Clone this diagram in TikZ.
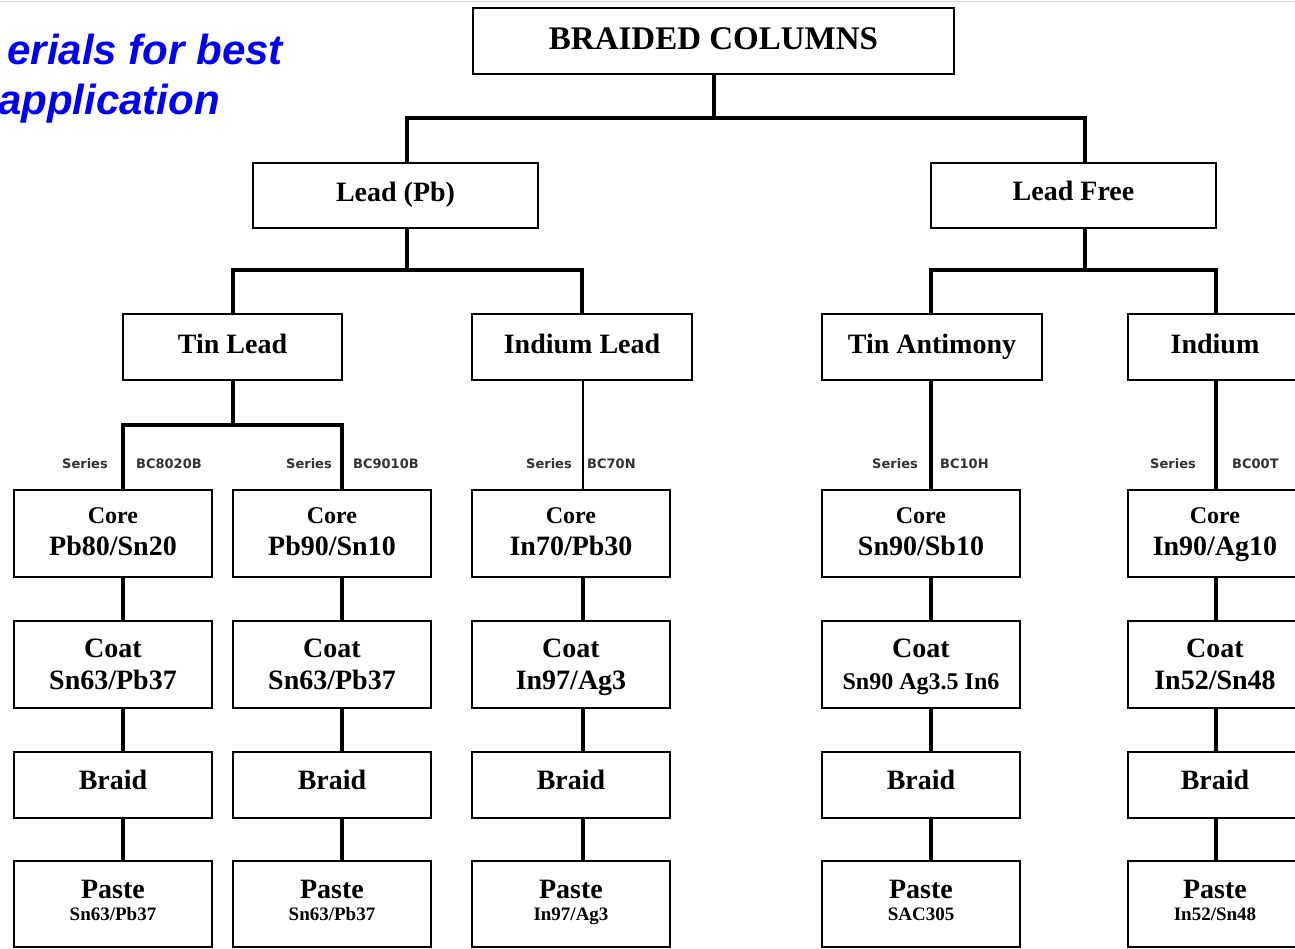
\documentclass[tikz,border=0pt]{standalone}
\usepackage{fontspec}
\setmainfont{Liberation Serif}
\newfontfamily\arialfam{Liberation Sans}
\newfontfamily\dvfam{DejaVu Sans}
\definecolor{titleblue}{RGB}{0,0,245}
\newcommand{\lastline}[2]{\raisebox{0pt}[\height][0pt]{#1}\rule[-#2]{0pt}{#2}}
\newcommand{\corel}[1]{{\fontsize{24}{31}\selectfont Core}\\[1.5pt]\lastline{#1}{4pt}}
\newcommand{\coatl}[1]{Coat\\[1pt]\lastline{#1}{0pt}}
\newcommand{\pastel}[1]{Paste\\[-9pt]{\fontsize{19}{22}\selectfont\lastline{#1}{8pt}}}
\begin{document}
\begin{tikzpicture}[x=1pt,y=-1pt,
  box/.style={draw=black,line width=2.7pt,fill=white,inner sep=0pt,align=center,
              font=\bfseries\fontsize{28}{31}\selectfont},
  one/.style={box,text height=19pt,text depth=7pt},
  conn/.style={line width=4pt},
  link/.style={line width=3.6pt},
  thinlink/.style={line width=2.6pt},
  ser/.style={font=\dvfam\bfseries\fontsize{13}{15}\selectfont,text=black!80,inner sep=0pt},
  blue/.style={font=\arialfam\bfseries\itshape\fontsize{42}{46}\selectfont,text=titleblue,inner sep=0pt}]
\useasboundingbox (0,0) rectangle (1295,949);
\clip (0,0) rectangle (1295,949);
\fill[white] (0,0) rectangle (1295,949);
\draw[gray!35,line width=1.5pt] (0,1.5) -- (1295,1.5);

% title text
\node[blue,anchor=base east] (tl1) at (283,65) {erials for best};
\node[blue,anchor=base east] (tl2) at (220,115) {application};

% upper boxes
\node[box,text height=23pt,text depth=5pt,minimum width=481,minimum height=66] (top) at (713.5,41) {\fontsize{33}{36}\selectfont BRAIDED COLUMNS};
\node[one,minimum width=285,minimum height=65] (lead) at (395.5,195.5) {Lead (Pb)};
\node[one,text depth=9pt,minimum width=285,minimum height=65] (free) at (1073.5,195.5) {Lead Free};
\node[one,minimum width=219,minimum height=66] (tinlead) at (232.5,347) {Tin Lead};
\node[one,minimum width=220,minimum height=66] (indlead) at (582,347) {Indium Lead};
\node[one,minimum width=220,minimum height=66] (tinant) at (932,347) {Tin Antimony};
\node[one,minimum width=174,minimum height=66] (indium) at (1215,347) {Indium};

% col 1
\node[box,minimum width=198,minimum height=87] (core1) at (113,533.5) {\corel{Pb80/Sn20}};
\node[box,minimum width=198,minimum height=87] (coat1) at (113,664.5) {\coatl{Sn63/Pb37}};
\node[one,text depth=10pt,minimum width=198,minimum height=66] (braid1) at (113,785) {Braid};
\node[box,minimum width=198,minimum height=86] (paste1) at (113,904) {\pastel{Sn63/Pb37}};
% col 2
\node[box,minimum width=198,minimum height=87] (core2) at (332,533.5) {\corel{Pb90/Sn10}};
\node[box,minimum width=198,minimum height=87] (coat2) at (332,664.5) {\coatl{Sn63/Pb37}};
\node[one,text depth=10pt,minimum width=198,minimum height=66] (braid2) at (332,785) {Braid};
\node[box,minimum width=198,minimum height=86] (paste2) at (332,904) {\pastel{Sn63/Pb37}};
% col 3
\node[box,minimum width=198,minimum height=87] (core3) at (571,533.5) {\corel{In70/Pb30}};
\node[box,minimum width=198,minimum height=87] (coat3) at (571,664.5) {\coatl{In97/Ag3}};
\node[one,text depth=10pt,minimum width=198,minimum height=66] (braid3) at (571,785) {Braid};
\node[box,minimum width=198,minimum height=86] (paste3) at (571,904) {\pastel{In97/Ag3}};
% col 4
\node[box,minimum width=198,minimum height=87] (core4) at (921,533.5) {\corel{Sn90/Sb10}};
\node[box,minimum width=198,minimum height=87] (coat4) at (921,664.5) {\coatl{\fontsize{24}{31}\selectfont Sn90 Ag3.5 In6}};
\node[one,text depth=10pt,minimum width=198,minimum height=66] (braid4) at (921,785) {Braid};
\node[box,minimum width=198,minimum height=86] (paste4) at (921,904) {\pastel{SAC305}};
% col 5
\node[box,minimum width=174,minimum height=87] (core5) at (1215,533.5) {\corel{In90/Ag10}};
\node[box,minimum width=174,minimum height=87] (coat5) at (1215,664.5) {\coatl{In52/Sn48}};
\node[one,text depth=10pt,minimum width=174,minimum height=66] (braid5) at (1215,785) {Braid};
\node[box,minimum width=174,minimum height=86] (paste5) at (1215,904) {\pastel{In52/Sn48}};

% connector positions
\coordinate (xPb) at (407,0);
\coordinate (xLF) at (1085,0);
\coordinate (xa1) at (123,0);
\coordinate (xa2) at (342,0);
\coordinate (xa3) at (583,0);
\coordinate (xa4) at (931,0);
\coordinate (xa5) at (1216,0);
\coordinate (j0) at (713.5,118);
\coordinate (j1) at (407,270);
\coordinate (j2) at (1085,270);
\coordinate (j3) at (232.5,425);

\draw[conn] (top.south) -- (j0);
\draw[conn] (lead.north -| xPb) |- (j0) -| (free.north -| xLF);
\draw[conn] (lead.south -| xPb) -- (j1);
\draw[conn] (tinlead.north) |- (j1) -| (indlead.north);
\draw[conn] (free.south -| xLF) -- (j2);
\draw[conn] (tinant.north -| xa4) |- (j2) -| (indium.north -| xa5);
\draw[conn] (tinlead.south) -- (j3);
\draw[conn] (core1.north -| xa1) |- (j3) -| (core2.north -| xa2);
\draw[thinlink] (indlead.south -| xa3) -- (core3.north -| xa3);
\draw[link] (tinant.south -| xa4) -- (core4.north -| xa4);
\draw[link] (indium.south -| xa5) -- (core5.north -| xa5);

\foreach \i in {1,...,5}{
  \draw[link] (core\i.south -| xa\i) -- (coat\i.north -| xa\i);
  \draw[link] (coat\i.south -| xa\i) -- (braid\i.north -| xa\i);
  \draw[link] (braid\i.south -| xa\i) -- (paste\i.north -| xa\i);
}

% series labels
\node[ser,anchor=east] (s1) at (108,464) {Series};
\node[ser,anchor=west] (n1) at (136,464) {BC8020B};
\node[ser,anchor=east] (s2) at (332,464) {Series};
\node[ser,anchor=west] (n2) at (353,464) {BC9010B};
\node[ser,anchor=east] (s3) at (572,464) {Series};
\node[ser,anchor=west] (n3) at (587,464) {BC70N};
\node[ser,anchor=east] (s4) at (918,464) {Series};
\node[ser,anchor=west] (n4) at (940,464) {BC10H};
\node[ser,anchor=east] (s5) at (1196,464) {Series};
\node[ser,anchor=west] (n5) at (1232,464) {BC00T};
\end{tikzpicture}
\end{document}
